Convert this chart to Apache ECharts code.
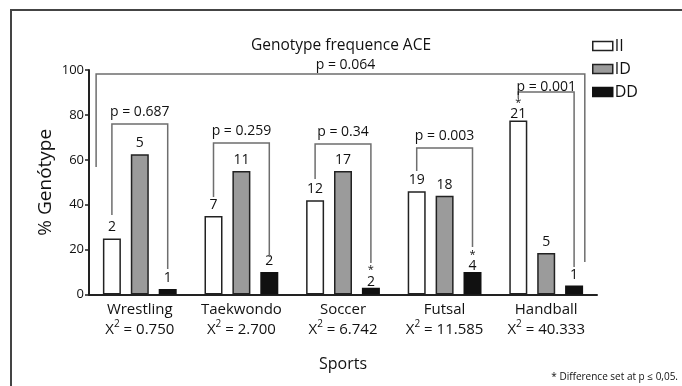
<!DOCTYPE html>
<html><head><meta charset="utf-8">
<script src="https://cdn.jsdelivr.net/npm/echarts@6/dist/echarts.min.js"></script>
<style>html,body{margin:0;padding:0;background:#fff}#c{width:682px;height:386px}</style>
</head><body><div id="c"></div>
<script>
// ---- data ----
const categories = ['Wrestling', 'Taekwondo', 'Soccer', 'Futsal', 'Handball'];
const chiSquare = ['0.750', '2.700', '6.742', '11.585', '40.333'];
const seriesNames = ['II', 'ID', 'DD'];
const valuesII = [25, 35, 42, 46, 77.5];
const valuesID = [62.5, 55, 55, 44, 18.5];
const valuesDD = [2.5, 10, 3, 10, 4];
const countsII = [2, 7, 12, 19, 21];
const countsID = [5, 11, 17, 18, 5];
const countsDD = [1, 2, 2, 4, 1];
const starII = [false, false, false, false, true];
const starID = [false, false, false, false, false];
const starDD = [false, false, true, true, false];
const yTicks = [0, 20, 40, 60, 80, 100];
// per-sport comparison brackets (II vs DD), heights in % units
const bracketCats = [0, 1, 2, 3, 4];
const bracketTop = [76, 67.5, 67, 65.3, 90.2];
const bracketLeftEnd = [35.4, 43.4, 51.4, 55, 87.5];
const bracketRightEnd = [11.4, 16.7, 14, 21.2, 12.2];
const bracketP = ['p = 0.687', 'p = 0.259', 'p = 0.34', 'p = 0.003', 'p = 0.001'];
// overall bracket
const overallTop = 98.2;
const overallLeftEnd = 56.8;
const overallRightEnd = 14.5;
const overallP = 'p = 0.064';

// ---- style ----
const FONT = '"Open Sans", "Noto Sans", sans-serif';
const INK = '#111';
const BAR_W = 18, BAR_GAP = 0.55;
const barStep = BAR_W * (1 + BAR_GAP);
const LINE = '#6e6e6e';

function barLabel(counts, stars) {
  return {
    show: true, position: 'top', distance: 3,
    formatter: p => stars[p.dataIndex]
      ? '{s|*}\n{n|' + counts[p.dataIndex] + '}'
      : '{n|' + counts[p.dataIndex] + '}',
    rich: {
      n: { fontFamily: FONT, fontSize: 14, color: INK, lineHeight: 16 },
      s: { fontFamily: FONT, fontSize: 11, color: INK, lineHeight: 7 }
    }
  };
}
function barData(values, stars) {
  return values.map((v, i) => stars[i] ? { value: v, label: { distance: -2 } } : v);
}

function bracketGroup(pts, text, tx, ty, raise) {
  return {
    type: 'group',
    children: [
      { type: 'polyline', shape: { points: pts },
        style: { stroke: LINE, lineWidth: 1.5, fill: null } },
      { type: 'text', x: tx, y: ty - raise,
        style: { text: text, fontFamily: FONT, fontSize: 14, fill: INK,
                 align: 'center', verticalAlign: 'middle' } }
    ]
  };
}

function renderBracket(params, api) {
  const i = params.dataIndex;
  const cat = bracketCats[i];
  const c = api.coord([cat, 0]);
  const xl = c[0] - barStep, xr = c[0] + barStep;
  const yt = api.coord([cat, bracketTop[i]])[1];
  const yl = api.coord([cat, bracketLeftEnd[i]])[1];
  const yr = api.coord([cat, bracketRightEnd[i]])[1];
  const raise = (cat === 4) ? 5 : 12;
  return bracketGroup([[xl, yl], [xl, yt], [xr, yt], [xr, yr]], bracketP[i], c[0], yt, raise);
}

function renderOverall(params, api) {
  const band = api.size([1, 0])[0];
  const c0 = api.coord([0, 0]);
  const c4 = api.coord([categories.length - 1, 0]);
  const xl = c0[0] - band * 0.43, xr = c4[0] + band * 0.38;
  const yt = api.coord([0, overallTop])[1];
  const yl = api.coord([0, overallLeftEnd])[1];
  const yr = api.coord([0, overallRightEnd])[1];
  return bracketGroup([[xl, yl], [xl, yt], [xr, yt], [xr, yr]], overallP, (xl + xr) / 2 + 5, yt, 9);
}

const chart = echarts.init(document.getElementById('c'));
const barStyles = [
  { color: '#ffffff', borderColor: '#222', borderWidth: 1.5 },
  { color: '#9b9b9b', borderColor: '#222', borderWidth: 1.5 },
  { color: '#111111', borderColor: '#111', borderWidth: 1.5 }
];
chart.setOption({
  animation: false,
  backgroundColor: '#fff',
  title: {
    text: 'Genotype frequence ACE', left: 'center', top: 33,
    textStyle: { fontFamily: FONT, fontSize: 15.5, fontWeight: 'normal', color: INK }
  },
  legend: {
    orient: 'vertical', left: 592, top: 38, padding: 0, itemWidth: 20, itemHeight: 9, itemGap: 7,
    textStyle: { fontFamily: FONT, fontSize: 16, color: INK, padding: [0, 0, 0, -3] },
    data: seriesNames.map((n, k) => ({ name: n, icon: 'rect', itemStyle: barStyles[k] }))
  },
  grid: { left: 89, right: 85, top: 70, bottom: 91.5 },
  xAxis: {
    type: 'category', data: categories,
    axisLine: { lineStyle: { color: '#222', width: 2 } },
    axisTick: { alignWithLabel: true, length: 5, lineStyle: { color: '#222', width: 1.5 } },
    axisLabel: {
      margin: 5, interval: 0,
      formatter: (v, idx) => '{a|' + v + '}\n{b|X}{sup|2}{b| = ' + chiSquare[idx] + '}',
      rich: {
        a: { fontFamily: FONT, fontSize: 15, color: INK, lineHeight: 20 },
        b: { fontFamily: FONT, fontSize: 15, color: INK, lineHeight: 20 },
        sup: { fontFamily: FONT, fontSize: 10, color: INK, lineHeight: 12, verticalAlign: 'top' }
      }
    },
    name: 'Sports', nameLocation: 'middle', nameGap: 62, nameMoveOverlap: false,
    nameTextStyle: { fontFamily: FONT, fontSize: 16, color: INK }
  },
  yAxis: {
    type: 'value', min: yTicks[0], max: yTicks[yTicks.length - 1], interval: yTicks[1] - yTicks[0],
    splitLine: { show: false },
    axisLine: { show: true, lineStyle: { color: '#222', width: 2 } },
    axisTick: { show: true, length: 4, lineStyle: { color: '#222', width: 1.5 } },
    axisLabel: { fontFamily: FONT, fontSize: 13, color: INK, margin: 5 },
    name: '% Genótype', nameLocation: 'middle', nameGap: 34, nameMoveOverlap: false,
    nameTextStyle: { fontFamily: FONT, fontSize: 19, color: INK }
  },
  graphic: [
    { type: 'rect', shape: { x: 11, y: 10, width: 700, height: 400 }, silent: true, z: -10,
      style: { fill: null, stroke: '#444', lineWidth: 2 } },
    { type: 'text', x: 678, y: 377, silent: true,
      style: { text: '* Difference set at p \u2264 0,05.', fontFamily: FONT, fontSize: 10, fill: INK,
               align: 'right', verticalAlign: 'middle' } }
  ],
  series: [
    { name: seriesNames[0], type: 'bar', data: barData(valuesII, starII), barWidth: BAR_W, barGap: (BAR_GAP * 100) + '%',
      itemStyle: barStyles[0], label: barLabel(countsII, starII) },
    { name: seriesNames[1], type: 'bar', data: barData(valuesID, starID), barWidth: BAR_W, barGap: (BAR_GAP * 100) + '%',
      itemStyle: barStyles[1], label: barLabel(countsID, starID) },
    { name: seriesNames[2], type: 'bar', data: barData(valuesDD, starDD), barWidth: BAR_W, barGap: (BAR_GAP * 100) + '%',
      itemStyle: barStyles[2], label: barLabel(countsDD, starDD) },
    { type: 'custom', renderItem: renderBracket, silent: true, z: 5,
      data: bracketCats.map((c, i) => [c, bracketTop[i]]), encode: { x: 0, y: 1 } },
    { type: 'custom', renderItem: renderOverall, silent: true, z: 5,
      data: [[0, overallTop]], encode: { x: 0, y: 1 } }
  ]
});
</script>
</body></html>
